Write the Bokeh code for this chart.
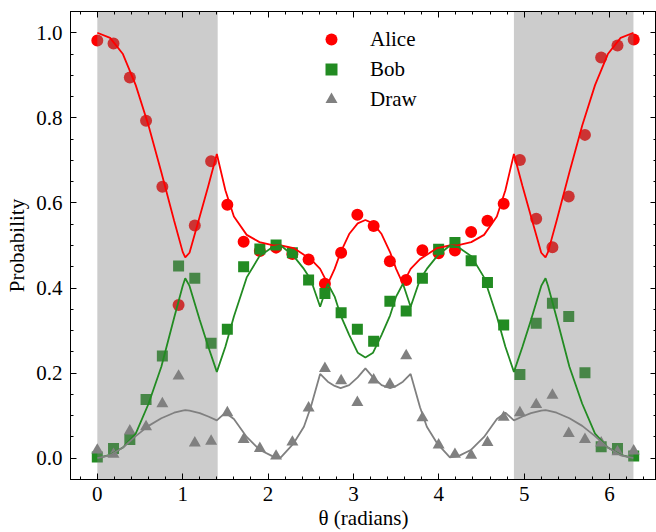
from bokeh.plotting import figure
from bokeh.models import Range1d, LinearAxis, FixedTicker, Legend, LegendItem
from bokeh.embed import file_html
from bokeh.resources import INLINE

# ---- measured points (34 angles between 0 and 2*pi) ----
theta = [0.000, 0.190, 0.381, 0.571, 0.762, 0.952, 1.142, 1.333, 1.523, 1.714,
         1.904, 2.094, 2.285, 2.475, 2.666, 2.856, 3.046, 3.237, 3.427, 3.618,
         3.808, 3.998, 4.189, 4.379, 4.570, 4.760, 4.950, 5.141, 5.331, 5.522,
         5.712, 5.902, 6.093, 6.283]
alice = [0.982, 0.975, 0.895, 0.793, 0.638, 0.360, 0.547, 0.698, 0.596, 0.509,
         0.487, 0.495, 0.480, 0.467, 0.410, 0.483, 0.572, 0.546, 0.463, 0.419,
         0.489, 0.482, 0.488, 0.532, 0.558, 0.598, 0.701, 0.563, 0.496, 0.615,
         0.760, 0.942, 0.970, 0.984]
bob = [0.003, 0.023, 0.044, 0.138, 0.240, 0.452, 0.423, 0.270, 0.303, 0.450,
       0.492, 0.501, 0.483, 0.419, 0.387, 0.342, 0.303, 0.275, 0.369, 0.346,
       0.423, 0.491, 0.507, 0.464, 0.413, 0.313, 0.197, 0.317, 0.364, 0.333,
       0.201, 0.027, 0.023, 0.005]
draw = [0.019, 0.009, 0.064, 0.074, 0.128, 0.193, 0.036, 0.040, 0.107, 0.044,
        0.023, 0.005, 0.038, 0.118, 0.211, 0.182, 0.131, 0.184, 0.174, 0.241,
        0.095, 0.031, 0.009, 0.007, 0.037, 0.096, 0.107, 0.126, 0.148, 0.058,
        0.044, 0.036, 0.015, 0.017]

# ---- theory curves ----
curve_x = [0.00, 0.15, 0.30, 0.45, 0.60, 0.75, 0.90, 1.00, 1.03, 1.08, 1.20, 1.30,
           1.40, 1.50, 1.60, 1.75, 1.90, 2.05, 2.15, 2.30, 2.42, 2.50, 2.61, 2.70,
           2.78, 2.85, 2.95, 3.05, 3.14, 3.23, 3.33, 3.43, 3.50, 3.58, 3.67, 3.78,
           3.86, 3.98, 4.13, 4.23, 4.38, 4.53, 4.68, 4.78, 4.88, 4.98, 5.08, 5.20,
           5.25, 5.28, 5.38, 5.53, 5.68, 5.83, 5.98, 6.13, 6.28]
curve_alice = [1.000, 0.988, 0.950, 0.877, 0.782, 0.672, 0.558, 0.485, 0.472, 0.483,
               0.568, 0.640, 0.715, 0.630, 0.568, 0.525, 0.508, 0.501, 0.500, 0.494,
               0.478, 0.468, 0.445, 0.410, 0.445, 0.484, 0.527, 0.552, 0.560, 0.552,
               0.527, 0.484, 0.445, 0.410, 0.445, 0.468, 0.478, 0.494, 0.500, 0.501,
               0.508, 0.525, 0.568, 0.630, 0.715, 0.640, 0.568, 0.483, 0.472, 0.485,
               0.558, 0.672, 0.782, 0.877, 0.950, 0.988, 1.000]
curve_bob = [0.000, 0.008, 0.025, 0.058, 0.128, 0.215, 0.330, 0.405, 0.423, 0.405,
             0.325, 0.262, 0.203, 0.262, 0.333, 0.425, 0.475, 0.496, 0.500, 0.475,
             0.445, 0.420, 0.356, 0.410, 0.380, 0.336, 0.290, 0.248, 0.237, 0.248,
             0.290, 0.336, 0.380, 0.410, 0.356, 0.420, 0.445, 0.475, 0.500, 0.496,
             0.475, 0.425, 0.333, 0.262, 0.203, 0.262, 0.325, 0.405, 0.423, 0.405,
             0.330, 0.215, 0.128, 0.058, 0.025, 0.008, 0.000]
curve_draw = [0.000, 0.007, 0.025, 0.052, 0.076, 0.094, 0.107, 0.112, 0.113, 0.112,
              0.106, 0.098, 0.089, 0.107, 0.092, 0.050, 0.020, 0.005, 0.002, 0.035,
              0.074, 0.120, 0.198, 0.180, 0.170, 0.165, 0.172, 0.190, 0.211, 0.190,
              0.172, 0.165, 0.170, 0.180, 0.198, 0.120, 0.074, 0.035, 0.002, 0.005,
              0.020, 0.050, 0.092, 0.107, 0.089, 0.098, 0.106, 0.112, 0.113, 0.112,
              0.107, 0.094, 0.076, 0.052, 0.025, 0.007, 0.000]

# shaded bands
band_left = [0.0, 4.88]
band_right = [1.41, 6.28]

x_ticks = [0, 1, 2, 3, 4, 5, 6]
x_tick_labels = ["0", "1", "2", "3", "4", "5", "6"]
y_ticks = [0.0, 0.2, 0.4, 0.6, 0.8, 1.0]
y_tick_labels = ["0.0", "0.2", "0.4", "0.6", "0.8", "1.0"]
x_minor = [round(-0.2 + 0.2 * i, 2) for i in range(35)]
y_minor = [round(-0.05 + 0.05 * i, 2) for i in range(23)]

RED = "#ff0000"
GREEN = "#228b22"
GRAY = "#808080"
FONT = "Liberation Serif"
FS = "21px"

p = figure(width=656, height=532, x_range=Range1d(-0.314, 6.55),
           y_range=Range1d(-0.05, 1.05), output_backend="svg",
           toolbar_location=None, min_border_left=70, min_border_right=0,
           min_border_top=11, min_border_bottom=53)
p.grid.visible = False
p.background_fill_color = "white"
p.border_fill_color = "white"
p.outline_line_color = "black"
p.outline_line_width = 1

xt = FixedTicker(ticks=x_ticks, minor_ticks=x_minor)
yt = FixedTicker(ticks=y_ticks, minor_ticks=y_minor)

for ax in p.xaxis:
    ax.ticker = xt
    ax.major_label_overrides = dict(zip(x_ticks, x_tick_labels))
for ax in p.yaxis:
    ax.ticker = yt
    ax.major_label_overrides = dict(zip(y_ticks, y_tick_labels))

for ax in list(p.xaxis) + list(p.yaxis):
    ax.major_tick_in = 6
    ax.major_tick_out = 0
    ax.minor_tick_in = 3
    ax.minor_tick_out = 0
    ax.axis_line_color = "black"
    ax.major_tick_line_color = "black"
    ax.minor_tick_line_color = "black"
    ax.major_label_text_font = FONT
    ax.major_label_text_font_size = FS
    ax.major_label_text_color = "black"
    ax.axis_label_text_font = FONT
    ax.axis_label_text_font_size = FS
    ax.axis_label_text_font_style = "normal"
    ax.axis_label_text_color = "black"

p.xaxis.axis_label = "θ (radians)"
p.yaxis.axis_label = "Probability"
p.xaxis.major_label_standoff = 7
p.xaxis.axis_label_standoff = 2
p.yaxis.major_label_standoff = 8
p.yaxis.axis_label_standoff = 4

for loc, tk in (("above", (x_ticks, x_minor)), ("right", (y_ticks, y_minor))):
    ax = LinearAxis(ticker=FixedTicker(ticks=tk[0], minor_ticks=tk[1]),
                    major_label_text_font_size="1px", major_label_standoff=0,
                    major_label_text_color=None, major_label_text_alpha=0,
                    major_tick_in=6, major_tick_out=0, minor_tick_in=3,
                    minor_tick_out=0, axis_line_color="black")
    p.add_layout(ax, loc)

# points first
r_a = p.scatter(theta, alice, marker="circle", size=12, fill_color=RED,
                line_color=None)
r_b = p.scatter(theta, bob, marker="square", size=11, fill_color=GREEN,
                line_color=None)
r_d = p.scatter(theta, draw, marker="triangle", size=12, fill_color=GRAY,
                line_color=None)

# shaded regions over the points
p.quad(left=band_left, right=band_right, bottom=-1, top=2,
       fill_color=GRAY, fill_alpha=0.4, line_color=None)

# theory curves on top
p.line(curve_x, curve_alice, line_color=RED, line_width=1.8)
p.line(curve_x, curve_bob, line_color=GREEN, line_width=1.8)
p.line(curve_x, curve_draw, line_color=GRAY, line_width=1.8)

legend = Legend(items=[LegendItem(label="Alice", renderers=[r_a]),
                       LegendItem(label="Bob", renderers=[r_b]),
                       LegendItem(label="Draw", renderers=[r_d])],
                location=(246, 365), padding=0, margin=0, spacing=0,
                glyph_width=30, glyph_height=30, label_height=30,
                label_standoff=24, border_line_color=None,
                background_fill_alpha=0, label_text_font=FONT,
                label_text_font_size=FS, label_text_color="black")
p.add_layout(legend)

open("out.html", "w").write(file_html(p, INLINE))
